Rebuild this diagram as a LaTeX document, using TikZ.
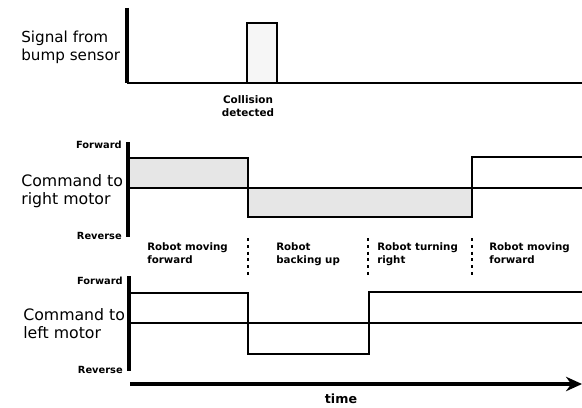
\documentclass[tikz,border=0pt]{standalone}
\usepackage{fontspec}
\setmainfont{DejaVu Sans}
\usetikzlibrary{positioning,arrows.meta}
\definecolor{StippleGray}{RGB}{230,230,230}
\definecolor{PulseFill}{RGB}{246,246,246}
\tikzset{
  axis/.style={line width=2.2pt,draw=black},
  level/.style={line width=2pt,draw=black},
  thinlevel/.style={line width=1.5pt,draw=black},
  pulse/.style={line width=1.1pt,draw=black,fill=PulseFill},
  separator/.style={line width=1.3pt,dash pattern=on 2.2pt off 2.6pt},
  timearrow/.style={-{Stealth[length=4mm,width=3.6mm]},line width=2.4pt},
  sidelabel/.style={anchor=west,align=left,inner sep=0pt,
    font=\fontsize{11.2}{12.8}\selectfont},
  tickname/.style={anchor=east,inner sep=0pt,font=\fontsize{7}{8}\selectfont\bfseries},
  phase/.style={anchor=north west,align=left,inner sep=0pt,
    font=\fontsize{7.3}{9.8}\selectfont\bfseries}
}

\begin{document}
\begin{tikzpicture}[x=0.025cm,y=-0.025cm]
  \useasboundingbox (0,0) rectangle (582,407);

  % signal from bump sensor
  \coordinate (sTop) at (127,8);
  \coordinate (sBase) at (127,83);
  \coordinate (sEnd) at (582,83);
  \draw[pulse] (247,83) rectangle (277,23);
  \draw[axis] (sTop) -- (sBase);
  \draw[thinlevel] (sBase) -- (sEnd);
  \node[sidelabel,font=\fontsize{10.8}{12.8}\selectfont] (sensor) at (21,47) {Signal from\\bump sensor};
  \node[align=center,inner sep=0pt,font=\fontsize{7.4}{9}\selectfont\bfseries]
    (collision) at (248,106) {Collision\\detected};

  % command to right motor
  \coordinate (rTop) at (128,142);
  \coordinate (rBot) at (128,237);
  \coordinate (rMid) at (128,188);
  \coordinate (rEnd) at (582,188);
  \fill[StippleGray] (128,158) rectangle (248,188);
  \fill[StippleGray] (248,188) rectangle (472,217);
  \draw[level] (128,158) -- (248,158) -- (248,217) -- (472,217)
    -- (472,157) -- (582,157);
  \draw[level] (rMid) -- (rEnd);
  \draw[axis] (rTop) -- (rBot);
  \node[tickname] (rFwd) at (122,145) {Forward};
  \node[tickname] (rRev) at (122,236) {Reverse};
  \node[sidelabel] (rightcmd) at (21,191) {Command to\\right motor};

  % phases
  \foreach \x in {248,368,472}
    \draw[separator] (\x,238) -- (\x,276);
  \node[phase] (phaseA) at (147,242) {Robot moving\\forward};
  \node[phase] (phaseB) at (276,242) {Robot\\backing up};
  \node[phase] (phaseC) at (377,242) {Robot turning\\right};
  \node[phase] (phaseD) at (489,242) {Robot moving\\forward};

  % command to left motor
  \coordinate (lTop) at (129,276);
  \coordinate (lBot) at (129,371);
  \coordinate (lMid) at (129,323);
  \coordinate (lEnd) at (582,323);
  \draw[level] (129,293) -- (248,293) -- (248,354) -- (369,354)
    -- (369,292) -- (582,292);
  \draw[level] (lMid) -- (lEnd);
  \draw[axis] (lTop) -- (lBot);
  \node[tickname] (lFwd) at (123,281) {Forward};
  \node[tickname] (lRev) at (123,370) {Reverse};
  \node[sidelabel] (leftcmd) at (23,324) {Command to\\left motor};

  % time axis
  \coordinate (tStart) at (130,384);
  \coordinate (tEnd) at (582,384);
  \draw[timearrow] (tStart) -- (tEnd);
  \node[inner sep=0pt,font=\fontsize{9}{10}\selectfont\bfseries] (time) at (341,399) {time};
\end{tikzpicture}
\end{document}
